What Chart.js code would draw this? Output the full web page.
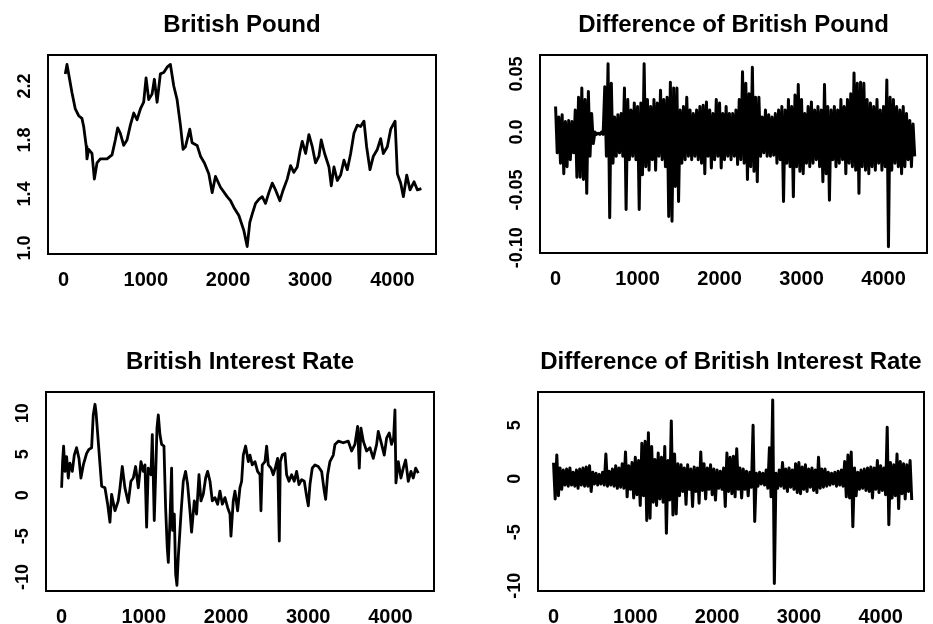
<!DOCTYPE html>
<html>
<head>
<meta charset="utf-8">
<script src="https://cdn.jsdelivr.net/npm/chart.js@4.4.0/dist/chart.umd.min.js"></script>
<style>
body { margin: 0; background: #fff; width: 933px; height: 624px; overflow: hidden; position: relative; }
canvas { position: absolute; }
</style>
</head>
<body>
<canvas id="pound" width="466" height="312" style="left:0;top:0"></canvas>
<canvas id="poundDiff" width="467" height="312" style="left:466px;top:0"></canvas>
<canvas id="rate" width="466" height="312" style="left:0;top:312px"></canvas>
<canvas id="rateDiff" width="467" height="312" style="left:466px;top:312px"></canvas>
<script>
// x axis (time index) ticks shared by all panels
var xTicks = [0, 1000, 2000, 3000, 4000];

// British Pound level
var poundT = [20,41,102,142,183,223,244,276,284,305,345,374,406,447,528,589,629,658,690,731,
  771,812,853,893,934,974,1003,1035,1076,1104,1137,1177,1218,1259,1299,1340,1380,1421,1453,1482,
  1535,1563,1624,1665,1713,1766,1807,1847,1908,1989,2030,2071,2132,2192,2233,2265,2294,2335,2375,2416,
  2456,2497,2538,2578,2631,2671,2720,2761,2801,2842,2874,2903,2944,2984,3025,3065,3106,3134,3175,3228,
  3256,3289,3329,3370,3410,3451,3492,3532,3573,3613,3654,3686,3727,3768,3816,3857,3889,3938,3979,4032,
  4060,4101,4133,4174,4214,4263,4304,4352];
var poundVal = [2.29,2.36,2.15,2.03,1.98,1.96,1.90,1.75,1.66,1.73,1.70,1.51,1.63,1.66,1.66,1.69,1.80,1.89,1.85,1.76,
  1.80,1.91,2.00,1.95,2.03,2.08,2.26,2.10,2.14,2.25,2.08,2.29,2.30,2.34,2.36,2.20,2.10,1.91,1.73,1.75,
  1.88,1.78,1.76,1.68,1.63,1.55,1.41,1.53,1.45,1.38,1.35,1.30,1.24,1.13,1.01,1.19,1.25,1.33,1.36,1.38,
  1.33,1.41,1.48,1.43,1.35,1.43,1.51,1.61,1.56,1.60,1.71,1.79,1.70,1.84,1.75,1.63,1.68,1.80,1.70,1.60,
  1.46,1.60,1.50,1.54,1.65,1.58,1.70,1.85,1.91,1.90,1.94,1.75,1.58,1.68,1.73,1.81,1.70,1.75,1.88,1.94,
  1.55,1.48,1.38,1.54,1.43,1.49,1.43,1.44];

// Difference of British Pound: upper and lower swings, one pair per 40 observations
var diffStep = 40;
var poundDiffHi = [0.022,0.013,0.015,0.009,0.010,0.009,0.019,0.030,0.038,0.028,
  0.035,0.016,0.000,-0.001,0.000,0.039,0.059,0.042,0.013,0.015,
  0.016,0.038,0.028,0.019,0.025,0.022,0.025,0.059,0.028,0.022,
  0.028,0.025,0.036,0.028,0.030,0.043,0.038,0.038,0.019,0.022,
  0.030,0.019,0.016,0.019,0.022,0.023,0.026,0.019,0.016,0.028,
  0.025,0.016,0.022,0.016,0.016,0.019,0.028,0.052,0.042,0.033,
  0.056,0.030,0.030,0.013,0.019,0.015,0.013,0.016,0.019,0.022,
  0.019,0.028,0.022,0.032,0.041,0.028,0.016,0.022,0.026,0.019,
  0.022,0.019,0.041,0.022,0.019,0.022,0.019,0.028,0.022,0.028,
  0.033,0.051,0.042,0.043,0.042,0.028,0.025,0.022,0.028,0.019,
  0.022,0.045,0.030,0.028,0.022,0.019,0.022,0.016,0.010,0.007];
var poundDiffLo = [-0.018,-0.027,-0.036,-0.030,-0.024,-0.018,-0.039,-0.039,-0.041,-0.053,
  -0.021,-0.010,-0.002,-0.002,-0.002,-0.021,-0.074,-0.027,-0.021,-0.018,
  -0.021,-0.067,-0.024,-0.021,-0.024,-0.067,-0.037,-0.030,-0.033,-0.024,
  -0.033,-0.021,-0.024,-0.030,-0.073,-0.077,-0.047,-0.060,-0.027,-0.024,
  -0.021,-0.024,-0.021,-0.024,-0.027,-0.036,-0.021,-0.031,-0.024,-0.021,
  -0.031,-0.024,-0.021,-0.024,-0.021,-0.028,-0.024,-0.027,-0.041,-0.030,
  -0.034,-0.043,-0.021,-0.018,-0.021,-0.021,-0.020,-0.027,-0.024,-0.060,
  -0.027,-0.030,-0.056,-0.030,-0.034,-0.036,-0.027,-0.030,-0.027,-0.024,
  -0.030,-0.043,-0.036,-0.059,-0.024,-0.030,-0.027,-0.024,-0.036,-0.027,
  -0.030,-0.033,-0.053,-0.030,-0.033,-0.036,-0.030,-0.033,-0.027,-0.033,
  -0.030,-0.099,-0.033,-0.027,-0.030,-0.036,-0.030,-0.024,-0.030,-0.021];

// British Interest Rate level
var rateT = [0,12,24,41,61,81,101,130,154,182,211,235,264,304,333,365,385,406,418,487,
  527,560,588,608,649,689,710,738,770,811,843,872,900,933,965,993,1014,1034,1054,1087,
  1103,1127,1144,1160,1176,1196,1217,1245,1265,1285,1298,1318,1338,1350,1371,1387,1403,1419,1452,1480,
  1508,1533,1561,1581,1614,1642,1671,1695,1723,1752,1776,1805,1833,1865,1898,1926,1955,1987,2019,2048,
  2060,2088,2109,2141,2169,2190,2210,2238,2271,2291,2319,2352,2384,2413,2425,2441,2474,2494,2514,2547,
  2575,2603,2628,2648,2660,2684,2717,2737,2766,2798,2830,2859,2887,2920,2952,2980,3001,3021,3049,3082,
  3122,3163,3195,3212,3236,3264,3305,3325,3366,3426,3487,3528,3568,3601,3621,3641,3670,3710,3751,3791,
  3832,3852,3893,3925,3954,3986,4014,4039,4055,4067,4096,4128,4156,4185,4217,4250,4278,4307,4339];
var rateVal = [0.9,4.1,6.0,2.9,4.7,2.1,3.9,2.9,4.9,5.8,4.5,2.1,3.7,5.1,5.6,5.8,9.8,11.1,10.2,1.1,
  0.9,-1.1,-3.3,0.1,-1.9,-0.7,0.9,3.5,0.9,-0.9,1.7,2.1,3.5,0.9,4.1,2.9,3.7,-3.9,3.3,2.5,
  7.4,-3.1,2.5,8.2,9.8,7.4,6.2,6.0,-1.5,-6.4,-8.2,-3.1,3.3,-4.3,-2.3,-9.6,-11.0,-7.6,-2.3,1.7,
  2.9,1.3,-1.9,-4.5,-0.7,-2.3,2.5,-0.7,0.1,2.1,2.9,1.7,-0.7,-0.3,-1.1,0.5,-1.1,-0.3,-1.5,-2.3,
  -5.0,-0.7,0.5,-1.9,0.9,1.7,4.9,6.0,4.1,4.9,3.7,4.1,2.9,2.5,-1.9,3.7,4.1,6.0,3.7,3.3,
  2.5,3.5,4.5,-5.6,4.1,4.9,5.1,2.5,1.7,2.5,1.7,2.9,1.3,1.9,1.7,-0.1,-1.3,1.3,3.3,3.7,
  3.5,2.9,0.5,-0.5,2.5,4.1,4.9,6.2,6.6,6.4,6.6,5.4,6.2,8.4,3.3,8.2,6.6,5.4,5.8,4.5,
  6.2,7.8,6.2,4.9,7.0,7.6,6.2,7.0,10.4,1.5,4.1,2.1,3.3,4.3,1.7,2.9,2.1,3.3,2.7];

// Difference of British Interest Rate
var rateDiffHi = [1.5,2.2,1.0,0.8,0.9,1.0,0.6,0.8,0.9,1.0, 1.1,1.2,0.6,0.5,0.4,0.6,2.3,0.7,0.9,1.2,
  1.0,1.4,2.5,1.2,1.5,2.0,1.7,3.3,3.5,4.3, 3.0,1.8,2.4,2.0,3.0,1.7,5.4,2.3,1.4,1.3,
  1.0,1.3,0.9,1.1,1.0,2.5,1.4,1.0,1.3,0.9, 0.8,0.7,1.0,2.4,2.0,2.1,2.8,1.0,0.9,0.7,
  0.6,5.0,0.5,0.6,0.5,0.8,2.9,7.35,0.5,0.8, 1.5,0.9,1.0,0.8,1.4,1.5,1.1,1.3,0.9,1.0,
  0.8,2.0,0.9,0.9,0.6,0.5,0.6,0.7,0.8,1.6, 2.2,2.5,1.0,0.6,0.8,0.9,1.0,1.1,1.0,1.7,
  1.2,1.0,4.8,1.5,1.3,2.3,1.6,1.4,1.3,1.7];
var rateDiffLo = [-1.9,-1.6,-1.0,-0.6,-0.7,-0.6,-0.7,-0.9,-0.6,-0.7, -0.7,-1.2,-0.5,-0.6,-0.5,-0.6,-0.7,-0.6,-0.7,-0.9,
  -0.8,-0.9,-1.7,-1.0,-1.8,-1.5,-2.5,-1.6,-3.9,-3.7, -2.2,-2.5,-1.9,-2.2,-5.1,-2.0,-3.4,-3.3,-1.6,-1.2,
  -2.4,-1.0,-2.6,-1.2,-2.3,-1.1,-1.9,-1.0,-1.5,-2.0, -0.9,-1.0,-2.6,-1.2,-1.4,-1.7,-1.0,-1.8,-1.0,-1.6,
  -0.8,-4.0,-0.7,-0.5,-0.6,-0.9,-1.7,-9.8,-0.9,-0.7, -0.9,-1.2,-0.8,-1.0,-1.3,-1.4,-1.0,-1.2,-0.8,-1.1,
  -1.3,-0.9,-0.8,-0.7,-0.6,-0.5,-0.7,-0.6,-0.7,-1.7, -1.8,-4.5,-1.6,-1.0,-0.9,-1.1,-1.2,-1.8,-1.0,-1.3,
  -1.1,-1.5,-4.3,-1.8,-1.6,-2.8,-1.4,-1.9,-1.2,-2.0];

function pairUp(ts, vs) {
    var pts = [];
    for (var i = 0; i < ts.length; i++) pts.push({x: ts[i], y: vs[i]});
    return pts;
}

function zigzag(hi, lo) {
    var pts = [];
    for (var i = 0; i < hi.length; i++) {
        pts.push({x: i * diffStep, y: hi[i]});
        pts.push({x: i * diffStep + diffStep / 2, y: lo[i]});
    }
    return pts;
}

var FONT = "'Liberation Sans', Arial, Helvetica, sans-serif";

// box, title and rotated y labels, R style
var panelPlugin = {
    id: 'panel',
    afterDraw: function(chart, args, opts) {
        var ctx = chart.ctx, a = chart.chartArea, y = chart.scales.y;
        ctx.save();
        ctx.strokeStyle = '#000';
        ctx.lineWidth = 2;
        ctx.strokeRect(a.left, a.top, a.right - a.left, a.bottom - a.top);
        ctx.fillStyle = '#000';
        ctx.textAlign = 'center';
        ctx.textBaseline = 'middle';
        ctx.font = 'bold 24px ' + FONT;
        ctx.fillText(opts.title, (a.left + a.right) / 2, a.top - 30);
        ctx.font = 'bold 18px ' + FONT;
        for (var i = 0; i < opts.yTicks.length; i++) {
            var py = y.getPixelForValue(opts.yTicks[i]);
            ctx.save();
            ctx.translate(a.left - 23, py);
            ctx.rotate(-Math.PI / 2);
            ctx.fillText(opts.yLabels[i], 0, 0);
            ctx.restore();
        }
        ctx.restore();
    }
};

function makePanel(id, title, points, lw, yMin, yMax, yTicks, yLabels, pad, xHeight) {
    return new Chart(document.getElementById(id), {
        type: 'line',
        data: {
            datasets: [{
                data: points,
                borderColor: '#000',
                borderWidth: lw,
                borderJoinStyle: 'round',
                pointRadius: 0,
                fill: false,
                tension: 0
            }]
        },
        options: {
            responsive: false,
            animation: false,
            devicePixelRatio: 1,
            layout: { padding: { left: pad[0], right: pad[1], top: pad[2], bottom: 0 } },
            plugins: {
                legend: { display: false },
                tooltip: { enabled: false },
                panel: { title: title, yTicks: yTicks, yLabels: yLabels }
            },
            scales: {
                x: {
                    type: 'linear',
                    min: -190,
                    max: 4530,
                    afterBuildTicks: function(s) { s.ticks = xTicks.map(function(v) { return {value: v}; }); },
                    afterFit: function(s) { s.height = xHeight; },
                    grid: { display: false },
                    border: { display: false },
                    ticks: {
                        color: '#000',
                        autoSkip: false,
                        maxRotation: 0,
                        padding: 6,
                        font: { family: FONT, size: 20, weight: 'bold' },
                        callback: function(v) { return String(v); }
                    }
                },
                y: { display: false, min: yMin, max: yMax }
            }
        },
        plugins: [panelPlugin]
    });
}

makePanel('pound', 'British Pound', pairUp(poundT, poundVal), 2.8,
    0.955, 2.43, [1.0, 1.4, 1.8, 2.2], ['1.0', '1.4', '1.8', '2.2'], [48, 30, 55], 58);
makePanel('poundDiff', 'Difference of British Pound', zigzag(poundDiffHi, poundDiffLo), 3,
    -0.1045, 0.0665, [-0.10, -0.05, 0.0, 0.05], ['-0.10', '-0.05', '0.0', '0.05'], [74, 6, 55], 59);
makePanel('rate', 'British Interest Rate', pairUp(rateT, rateVal), 2.8,
    -11.7, 12.6, [-10, -5, 0, 5, 10], ['-10', '-5', '0', '5', '10'], [46, 32, 80], 33);
makePanel('rateDiff', 'Difference of British Interest Rate', zigzag(rateDiffHi, rateDiffLo), 3,
    -10.5, 8.1, [-10, -5, 0, 5], ['-10', '-5', '0', '5'], [72, 9, 80], 33);
</script>
</body>
</html>
